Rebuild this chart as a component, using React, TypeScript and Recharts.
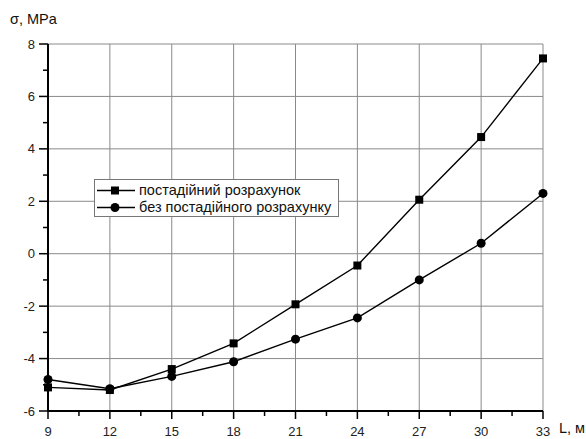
import React from 'react';
import { LineChart, Line, XAxis, YAxis, ReferenceLine } from 'recharts';

const lengths = [9, 12, 15, 18, 21, 24, 27, 30, 33];
const stagedValues = [-5.1, -5.2, -4.4, -3.42, -1.93, -0.45, 2.06, 4.45, 7.45];
const unstagedValues = [-4.8, -5.15, -4.68, -4.12, -3.26, -2.45, -1.0, 0.4, 2.3];

const xMajor = [9, 12, 15, 18, 21, 24, 27, 30, 33];
const xAllTicks = [9, 10.5, 12, 13.5, 15, 16.5, 18, 19.5, 21, 22.5, 24, 25.5, 27, 28.5, 30, 31.5, 33];
const yMajor = [-6, -4, -2, 0, 2, 4, 6, 8];
const yAllTicks = [-6, -5, -4, -3, -2, -1, 0, 1, 2, 3, 4, 5, 6, 7, 8];

const seriesNames = ['постадійний розрахунок', 'без постадійного розрахунку'];

const data = lengths.map((l, i) => ({ l, staged: stagedValues[i], unstaged: unstagedValues[i] }));

const FONT = '"Liberation Sans", Arial, sans-serif';

const XTick = (props: any) => {
  const { x, y, payload } = props;
  const major = xMajor.includes(payload.value);
  return (
    <g>
      <line x1={x} x2={x} y1={y} y2={y + (major ? 8 : 5)} stroke="#000" strokeWidth={1.5} />
      {major && (
        <text x={x} y={y + 25} textAnchor="middle" fontSize={13} fill="#222" fontFamily={FONT}>
          {payload.value}
        </text>
      )}
    </g>
  );
};

const YTick = (props: any) => {
  const { x, y, payload } = props;
  const major = yMajor.includes(payload.value);
  return (
    <g>
      <line x1={x - (major ? 9 : 5)} x2={x} y1={y} y2={y} stroke="#000" strokeWidth={1.5} />
      {major && (
        <text x={x - 13} y={y + 4.5} textAnchor="end" fontSize={13} fill="#222" fontFamily={FONT}>
          {payload.value}
        </text>
      )}
    </g>
  );
};

const SquareDot = (props: any) => {
  const { cx, cy, index } = props;
  return <rect key={`sq-${index}`} x={cx - 4} y={cy - 4} width={8} height={8} fill="#000" />;
};

const CircleDot = (props: any) => {
  const { cx, cy, index } = props;
  return <circle key={`ci-${index}`} cx={cx} cy={cy} r={4.5} fill="#000" />;
};

const LegendBox = () => (
  <div
    style={{
      position: 'absolute',
      left: 94,
      top: 179,
      width: 245,
      height: 38,
      border: '1px solid #777',
      background: '#fff',
      paddingTop: 2,
      boxSizing: 'border-box',
      fontFamily: FONT,
      fontSize: 14.5,
      color: '#111',
      lineHeight: '17px',
    }}
  >
    {seriesNames.map((name, i) => (
      <div key={name} style={{ display: 'flex', alignItems: 'center', height: 17 }}>
        <svg width={44} height={17}>
          <line x1={2} x2={40} y1={8.5} y2={8.5} stroke="#000" strokeWidth={1.5} />
          {i === 0 ? <rect x={16} y={4.5} width={8} height={8} fill="#000" /> : <circle cx={20} cy={8.5} r={4.5} fill="#000" />}
        </svg>
        <span style={{ whiteSpace: 'nowrap' }}>{name}</span>
      </div>
    ))}
  </div>
);

export default function App() {
  return (
    <div style={{ position: 'absolute', left: 0, top: 0, width: 586, height: 439, background: '#fff' }}>
      <LineChart width={586} height={439} data={data} margin={{ top: 44, right: 43, bottom: 0, left: 0 }}>
        {xMajor.map((v) => (
          <ReferenceLine key={`gx-${v}`} x={v} stroke="#8a8a8a" strokeWidth={1} />
        ))}
        {yMajor.map((v) => (
          <ReferenceLine key={`gy-${v}`} y={v} stroke="#8a8a8a" strokeWidth={1} />
        ))}
        <XAxis
          dataKey="l"
          type="number"
          domain={[9, 33]}
          ticks={xAllTicks}
          interval={0}
          height={28}
          tickSize={0}
          tickMargin={0}
          tickLine={false}
          axisLine={{ stroke: '#000', strokeWidth: 2 }}
          tick={<XTick />}
        />
        <YAxis
          type="number"
          domain={[-6, 8]}
          ticks={yAllTicks}
          interval={0}
          width={48}
          tickSize={0}
          tickMargin={0}
          tickLine={false}
          axisLine={{ stroke: '#000', strokeWidth: 2 }}
          tick={<YTick />}
        />
        <Line
          dataKey="staged"
          name={seriesNames[0]}
          stroke="#000"
          strokeWidth={1.4}
          dot={<SquareDot />}
          isAnimationActive={false}
        />
        <Line
          dataKey="unstaged"
          name={seriesNames[1]}
          stroke="#000"
          strokeWidth={1.4}
          dot={<CircleDot />}
          isAnimationActive={false}
        />
      </LineChart>
      <LegendBox />
      <div style={{ position: 'absolute', left: 10, top: 11, fontFamily: FONT, fontSize: 14.5, color: '#111' }}>σ, MPa</div>
      <div style={{ position: 'absolute', left: 559, top: 420, fontFamily: FONT, fontSize: 14.5, color: '#111' }}>L, м</div>
    </div>
  );
}
